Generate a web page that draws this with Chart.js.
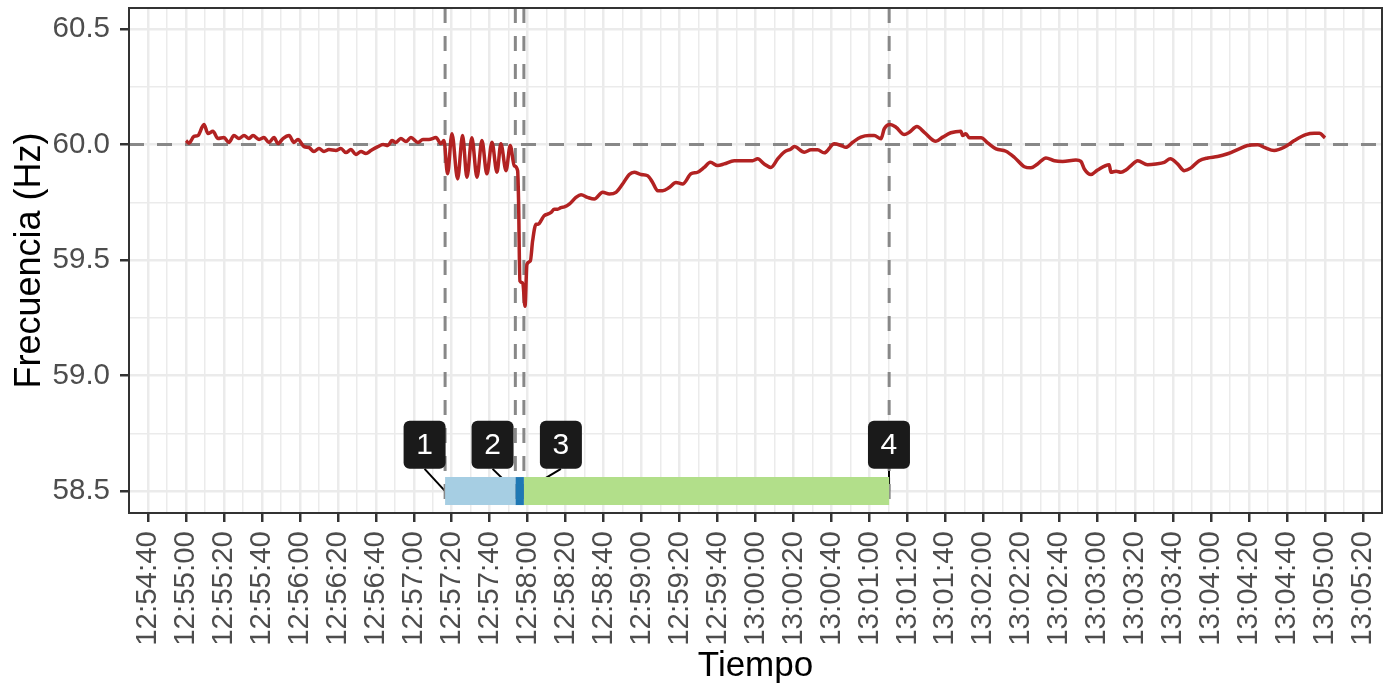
<!DOCTYPE html>
<html>
<head>
<meta charset="utf-8">
<script src="https://cdn.jsdelivr.net/npm/chart.js@4.4.1/dist/chart.umd.min.js"></script>
<style>
  html, body { margin: 0; padding: 0; background: #fff; }
</style>
</head>
<body>
<canvas id="FreqChart" width="1399" height="692"></canvas>
<script>
// seconds after 12:55:00
const timeSec = [0, 1.6, 4.2, 6.3, 9.5, 11.6, 14.2, 16.9, 20.0, 22.6, 25.3, 27.9, 30.6, 33.2, 35.3,
  38.5, 41.1, 43.7, 46.4, 48.5, 51.1, 54.3, 56.9, 59.0, 62.2, 64.8, 67.4, 70.1, 72.7, 75.3, 79.0,
  81.6, 84.3, 86.9, 89.5, 92.2, 94.8, 97.4, 101.1, 103.8, 106.4, 108.5, 110.6, 113.2, 115.9, 118.5,
  122.2, 124.8, 128.0, 131.7, 134.3, 135.9,
  137.8, 140.1, 143.1, 145.7, 148.0, 150.6, 153.3, 155.9, 158.5, 161.2, 163.8, 165.9, 168.6, 170.8,
  172.9, 174.7, 175.2, 175.9, 177.4, 178.6, 179.6, 181.4, 182.6, 184.4, 185.6, 187.0, 188.6, 190.5,
  192.3, 194.0, 195.8, 197.5, 199.3, 201.9, 205.4, 208.1, 211.6, 215.1, 219.5, 223.0, 226.5, 230.0,
  233.5, 236.1, 239.7, 243.2, 245.8, 248.5, 251.1, 254.6, 258.1, 261.6, 266.0, 269.5, 273.0, 276.2,
  280.1, 283.5, 288.8, 294.1, 298.5, 301.1, 304.6, 308.1, 311.7, 315.1, 318.7, 320.4, 325.7, 329.2,
  332.7, 336.2, 341.5, 345.0, 347.6, 351.2, 355.5, 359.9, 362.5, 366.1, 367.8, 371.0, 374.0, 378.4,
  381.0, 385.0, 388.9, 395.0, 398.6, 402.9, 408.2, 409.1, 410.8, 412.6, 418.8, 422.3, 426.7, 431.9,
  436.3, 441.6, 445.1, 448.6, 453.0, 457.4, 461.8, 468.8, 471.4, 473.2, 476.7, 480.2, 486.3, 487.2,
  489.9, 492.5, 495.1, 497.8, 501.3, 506.5, 510.9, 515.3, 518.5, 522.3, 525.8, 529.4, 533.7, 538.2,
  543.4, 548.7, 554.8, 559.2, 564.5, 568.0, 573.2, 578.5, 583.8, 589.9, 594.3, 597.0, 600]
const freqHz = [60.017, 60.006, 60.035, 60.039, 60.087, 60.048, 60.057, 60.026, 60.030, 60.009, 60.039,
  60.026, 60.039, 60.026, 60.039, 60.022, 60.030, 60.009, 60.030, 60.004, 60.026, 60.039, 60.009,
  60.022, 59.991, 59.987, 59.970, 59.983, 59.970, 59.978, 59.974, 59.983, 59.965, 59.978, 59.957,
  59.970, 59.961, 59.974, 59.991, 60.000, 59.996, 60.017, 60.009, 60.026, 60.013, 60.030, 60.009,
  60.022, 60.022, 60.030, 60.004, 60.017,
  59.873, 60.047, 59.851, 60.039, 59.858, 60.029, 59.858, 60.017, 59.873, 60.010, 59.880, 60.003,
  59.887, 59.996, 59.909, 59.887, 59.757, 59.409, 59.401, 59.300, 59.481, 59.496, 59.583, 59.655,
  59.655, 59.670, 59.691, 59.699, 59.706, 59.720, 59.720, 59.727, 59.730, 59.742, 59.771, 59.783,
  59.771, 59.764, 59.793, 59.786, 59.793, 59.829, 59.870, 59.880, 59.870, 59.865, 59.836, 59.800,
  59.800, 59.814, 59.836, 59.829, 59.873, 59.880, 59.901, 59.923, 59.909, 59.916, 59.930, 59.930,
  59.930, 59.938, 59.916, 59.901, 59.938, 59.967, 59.981, 59.991, 59.967, 59.977, 59.977, 59.964,
  60.003, 59.996, 59.988, 60.010, 60.032, 60.039, 60.039, 60.025, 60.068, 60.087, 60.075, 60.043,
  60.053, 60.078, 60.053, 60.014, 60.032, 60.051, 60.058, 60.039, 60.047, 60.029, 60.029, 60.007,
  59.981, 59.971, 59.945, 59.904, 59.899, 59.916, 59.942, 59.930, 59.927, 59.933, 59.927, 59.894,
  59.870, 59.890, 59.913, 59.880, 59.884, 59.880, 59.890, 59.909, 59.930, 59.913, 59.916, 59.923,
  59.938, 59.916, 59.887, 59.899, 59.930, 59.942, 59.948, 59.960, 59.981, 59.996, 59.999, 59.988,
  59.974, 59.988, 60.017, 60.043, 60.049, 60.049, 60.029]

// event marks (seconds after 12:55:00) and the phases between them
const eventSec = [136.5, 173.5, 178, 370.4]
const eventNames = ['1', '2', '3', '4']
const phaseColors = ['#a6cee3', '#1f78b4', '#b2df8a']
const phaseHz = 58.5
const labelSec = [125.7, 161.5, 197.5, 370.3]
const labelHz = 58.70
const nominalHz = 60.0

const xTickLabels = ['12:54:40', '12:55:00', '12:55:20', '12:55:40', '12:56:00', '12:56:20', '12:56:40',
  '12:57:00', '12:57:20', '12:57:40', '12:58:00', '12:58:20', '12:58:40', '12:59:00', '12:59:20',
  '12:59:40', '13:00:00', '13:00:20', '13:00:40', '13:01:00', '13:01:20', '13:01:40', '13:02:00',
  '13:02:20', '13:02:40', '13:03:00', '13:03:20', '13:03:40', '13:04:00', '13:04:20', '13:04:40',
  '13:05:00', '13:05:20']
const xFirstTickSec = -20
const yTickHz = [58.5, 59.0, 59.5, 60.0, 60.5]
const yMinorHz = [58.75, 59.25, 59.75, 60.25]

const xMin = -30, xMax = 630
const yMin = 58.405, yMax = 60.591

const FONT = '"Liberation Sans", Arial, sans-serif'

const isMajorX = v => Math.abs(v % 20) < 1e-6
const isMajorY = v => yTickHz.some(t => Math.abs(t - v) < 1e-6)

const pts = timeSec.map((t, i) => ({x: t, y: freqHz[i]}))

const datasets = []
phaseColors.forEach((c, i) => {
    datasets.push({
        data: [{x: eventSec[i], y: phaseHz}, {x: eventSec[i + 1], y: phaseHz}],
        borderColor: c,
        borderWidth: 28,
        borderCapStyle: 'butt',
        pointRadius: 0,
        order: 0
    })
})
datasets.push({
    data: pts,
    borderColor: '#b22222',
    borderWidth: 3.5,
    cubicInterpolationMode: 'monotone',
    pointRadius: 0,
    order: 1
})
datasets.push({
    data: [{x: xMin, y: nominalHz}, {x: xMax, y: nominalHz}],
    borderColor: '#888888',
    borderWidth: 3,
    borderDash: [15, 13],
    pointRadius: 0,
    order: 2
})
eventSec.forEach(t => {
    datasets.push({
        data: [{x: t, y: yMax}, {x: t, y: yMin}],
        borderColor: '#888888',
        borderWidth: 3,
        borderDash: [15, 13],
        pointRadius: 0,
        order: 2
    })
})

const boxW = 42, boxH = 48

const annotate = {
    id: 'annotate',
    beforeDatasetsDraw(chart) {
        const {ctx, scales: {x, y}} = chart
        ctx.save()
        ctx.strokeStyle = '#000'
        ctx.lineWidth = 2
        labelSec.forEach((t, i) => {
            const lx = x.getPixelForValue(t)
            const ly = y.getPixelForValue(labelHz) + boxH / 2
            ctx.beginPath()
            ctx.moveTo(lx, ly)
            ctx.lineTo(x.getPixelForValue(eventSec[i]), y.getPixelForValue(phaseHz))
            ctx.stroke()
        })
        ctx.restore()
    },
    afterDatasetsDraw(chart) {
        const {ctx, scales: {x, y}} = chart
        ctx.save()
        labelSec.forEach((t, i) => {
            const cx = x.getPixelForValue(t)
            const cy = y.getPixelForValue(labelHz)
            ctx.fillStyle = '#1a1a1a'
            ctx.beginPath()
            ctx.roundRect(cx - boxW / 2, cy - boxH / 2, boxW, boxH, 6)
            ctx.fill()
            ctx.fillStyle = '#ffffff'
            ctx.font = '30px ' + FONT
            ctx.textAlign = 'center'
            ctx.textBaseline = 'middle'
            ctx.fillText(eventNames[i], cx, cy + 1)
        })
        ctx.restore()
    },
    afterDraw(chart) {
        const {ctx, chartArea: a} = chart
        ctx.save()
        ctx.strokeStyle = '#333333'
        ctx.lineWidth = 2
        ctx.strokeRect(a.left, a.top, a.right - a.left, a.bottom - a.top)
        ctx.restore()
    }
}

new Chart(document.getElementById('FreqChart'), {
    type: 'line',
    data: {datasets: datasets},
    plugins: [annotate],
    options: {
        responsive: false,
        animation: false,
        layout: {padding: {left: 0, top: 8, right: 17, bottom: 0}},
        plugins: {legend: {display: false}, tooltip: {enabled: false}},
        scales: {
            x: {
                type: 'linear',
                min: xMin,
                max: xMax,
                afterBuildTicks: s => {
                    const t = []
                    for (let v = xMin; v <= xMax; v += 10) t.push({value: v})
                    s.ticks = t
                },
                afterFit: s => {
                    s.height = 179
                    s.paddingLeft = 0
                    s.paddingRight = 0
                },
                border: {display: false},
                grid: {
                    color: '#ebebeb',
                    lineWidth: c => isMajorX(c.tick.value) ? 2.5 : 1.5,
                    tickLength: 9,
                    tickWidth: 2.5,
                    tickColor: c => isMajorX(c.tick.value) && c.tick.value > xMin && c.tick.value < xMax ? '#333333' : 'rgba(0,0,0,0)'
                },
                ticks: {
                    autoSkip: false,
                    minRotation: 90,
                    maxRotation: 90,
                    padding: 9,
                    color: '#4d4d4d',
                    font: {size: 29.5, family: FONT},
                    callback: v => {
                        if (!isMajorX(v)) return ''
                        const idx = Math.round((v - xFirstTickSec) / 20)
                        return xTickLabels[idx] || ''
                    }
                },
                title: {
                    display: true,
                    text: 'Tiempo',
                    color: '#000',
                    font: {size: 35, family: FONT},
                    padding: {top: 0, bottom: 5}
                }
            },
            y: {
                type: 'linear',
                min: yMin,
                max: yMax,
                afterBuildTicks: s => {
                    s.ticks = yTickHz.concat(yMinorHz).sort((a, b) => a - b).map(v => ({value: v}))
                },
                afterFit: s => {
                    s.width = 129
                    s.paddingTop = 0
                    s.paddingBottom = 0
                },
                border: {display: false},
                grid: {
                    color: '#ebebeb',
                    lineWidth: c => isMajorY(c.tick.value) ? 2.5 : 1.5,
                    tickLength: 9,
                    tickWidth: 2.5,
                    tickColor: c => isMajorY(c.tick.value) ? '#333333' : 'rgba(0,0,0,0)'
                },
                ticks: {
                    padding: 10,
                    color: '#4d4d4d',
                    font: {size: 29.5, family: FONT},
                    callback: v => isMajorY(v) ? v.toFixed(1) : ''
                },
                title: {
                    display: true,
                    text: 'Frecuencia (Hz)',
                    color: '#000',
                    font: {size: 36, family: FONT},
                    padding: {top: 8, bottom: 0}
                }
            }
        }
    }
})
</script>
</body>
</html>
